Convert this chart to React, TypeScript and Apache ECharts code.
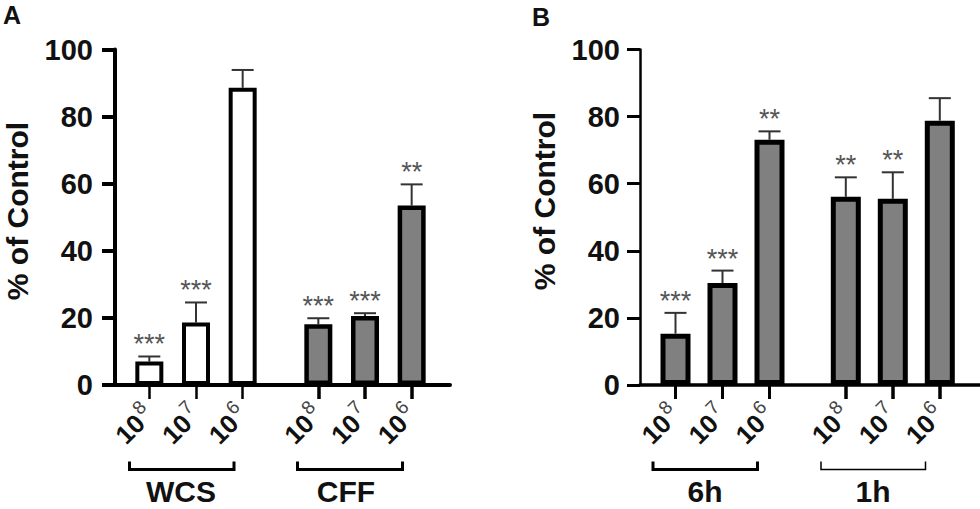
import React, { useEffect, useRef } from 'react';
import * as echarts from 'echarts';

const doseExponents = ['8', '7', '6'];
const groupNamesA = ['WCS', 'CFF'];
const groupNamesB = ['6h', '1h'];
const yTicks = [0, 20, 40, 60, 80, 100];
const yTitle = '% of Control';
const panelLetters = ['A', 'B'];

const wcsValues = [7.0, 18.6, 88.6];
const wcsErrors = [1.5, 6.0, 5.3];
const wcsStars = ['***', '***', ''];

const cffValues = [18.1, 20.6, 53.5];
const cffErrors = [1.8, 0.8, 6.3];
const cffStars = ['***', '***', '**'];

const h6Values = [15.3, 30.4, 73.1];
const h6Errors = [6.2, 3.7, 2.5];
const h6Stars = ['***', '***', '**'];

const h1Values = [56.1, 55.5, 78.8];
const h1Errors = [5.8, 7.9, 6.7];
const h1Stars = ['**', '**', ''];

const FONT = '"Liberation Sans", Arial, Helvetica, sans-serif';
const TOP = 49.5;
const HEIGHT = 335.5;

export default function App() {
  const ref = useRef<HTMLDivElement>(null);

  useEffect(() => {
    if (!ref.current) return;
    const chart = echarts.init(ref.current, undefined, { renderer: 'svg' });

    const yMin = yTicks[0];
    const yMax = yTicks[yTicks.length - 1];
    const yInt = yTicks[1] - yTicks[0];

    const frames = [
      { left: 115, width: 335, yLine: 4, yTick: 4, xLine: 4, labelMargin: 22 },
      { left: 640, width: 340, yLine: 2.5, yTick: 3, xLine: 3.5, labelMargin: 20 },
    ];

    const groups = [
      { values: wcsValues, errors: wcsErrors, stars: wcsStars, fill: '#ffffff', left: 126, width: 140, bw: 28, border: 4, tickW: 2.5 },
      { values: cffValues, errors: cffErrors, stars: cffStars, fill: '#808080', left: 295, width: 140, bw: 28, border: 4.5, tickW: 3.5 },
      { values: h6Values, errors: h6Errors, stars: h6Stars, fill: '#808080', left: 652, width: 141, bw: 30, border: 5, tickW: 3 },
      { values: h1Values, errors: h1Errors, stars: h1Stars, fill: '#808080', left: 822.3, width: 141, bw: 30, border: 5, tickW: 3.5 },
    ];

    const grid: any[] = [];
    const xAxis: any[] = [];
    const yAxis: any[] = [];
    const series: any[] = [];

    frames.forEach((f) => {
      grid.push({ left: f.left, top: TOP, width: f.width, height: HEIGHT });
      const gi = grid.length - 1;
      xAxis.push({
        type: 'value', gridIndex: gi, min: 0, max: 1,
        axisLine: { show: true, lineStyle: { color: '#000', width: f.xLine } },
        axisTick: { show: false }, axisLabel: { show: false }, splitLine: { show: false },
      });
      yAxis.push({
        type: 'value', gridIndex: gi, min: yMin, max: yMax, interval: yInt,
        axisLine: { show: true, lineStyle: { color: '#000', width: f.yLine } },
        axisTick: { show: true, length: 13, lineStyle: { color: '#000', width: f.yTick } },
        axisLabel: { fontSize: 29, fontWeight: 'bold', color: '#111', fontFamily: FONT, margin: f.labelMargin },
        splitLine: { show: false },
      });
    });

    groups.forEach((g) => {
      grid.push({ left: g.left, top: TOP, width: g.width, height: HEIGHT });
      const gi = grid.length - 1;
      xAxis.push({
        type: 'category', gridIndex: gi, data: doseExponents,
        axisLine: { show: false },
        axisTick: { show: true, alignWithLabel: true, length: 14, lineStyle: { color: '#000', width: g.tickW } },
        axisLabel: {
          interval: 0, rotate: 45, margin: 25,
          formatter: (v: string) => `{n|10}{s|${v}}`,
          rich: {
            n: { fontSize: 26, fontWeight: 'bold', color: '#111', fontFamily: FONT, lineHeight: 26 },
            s: { fontSize: 19, color: '#444', fontFamily: FONT, lineHeight: 19, padding: [0, 0, 18, 2] },
          },
        },
        splitLine: { show: false },
      });
      yAxis.push({ type: 'value', gridIndex: gi, min: yMin, max: yMax, show: false, splitLine: { show: false } });
      series.push({
        type: 'bar', xAxisIndex: gi, yAxisIndex: gi, data: g.values, barWidth: g.bw, z: 2,
        itemStyle: { color: g.fill, borderColor: '#000', borderWidth: g.border },
      });
      const stars = g.stars;
      series.push({
        type: 'custom', xAxisIndex: gi, yAxisIndex: gi, z: 1, clip: false,
        data: g.values.map((v, i) => [i, v, g.errors[i]]),
        encode: { x: 0, y: 1 },
        renderItem: (params: any, api: any) => {
          const i = api.value(0);
          const v = api.value(1);
          const e = api.value(2);
          const base = api.coord([i, v]);
          const top = api.coord([i, v + e]);
          const star = stars[params.dataIndex];
          return {
            type: 'group',
            children: [
              { type: 'line', shape: { x1: base[0], y1: base[1], x2: top[0], y2: top[1] }, style: { stroke: '#333', lineWidth: 2 } },
              { type: 'line', shape: { x1: top[0] - 11, y1: top[1], x2: top[0] + 11, y2: top[1] }, style: { stroke: '#333', lineWidth: 2 } },
              {
                type: 'text', x: top[0], y: top[1] - 12,
                style: { text: star, fontSize: 27, fill: '#555', align: 'center', verticalAlign: 'middle', fontFamily: FONT },
              },
            ],
          };
        },
      });
    });

    const bracket = (x1: number, x2: number, w: number) => ({
      type: 'polyline',
      shape: { points: [[x1, 461.5], [x1, 469.5], [x2, 469.5], [x2, 461.5]] },
      style: { stroke: '#000', lineWidth: w, fill: 'none' },
    });
    const label = (text: string, x: number, y: number, size: number) => ({
      type: 'text', x, y,
      style: { text, fontSize: size, fontWeight: 'bold', fill: '#111', fontFamily: FONT, align: 'center', verticalAlign: 'middle' },
    });
    const rotLabel = (text: string, x: number, y: number) => ({
      type: 'text', x, y, rotation: Math.PI / 2,
      style: { text, fontSize: 30, fontWeight: 'bold', fill: '#111', fontFamily: FONT, align: 'center', verticalAlign: 'middle' },
    });

    const graphic = [
      label(panelLetters[0], 12, 15, 25),
      label(panelLetters[1], 541, 17, 25),
      rotLabel(yTitle, 17, 211),
      rotLabel(yTitle, 544, 201),
      bracket(129.5, 234, 3),
      bracket(297.5, 402.5, 3),
      bracket(653, 757.5, 3),
      bracket(821, 925.5, 1.5),
      label(groupNamesA[0], 181, 491, 30),
      label(groupNamesA[1], 346, 491, 30),
      label(groupNamesB[0], 705, 491, 30),
      label(groupNamesB[1], 873, 491, 30),
    ];

    chart.setOption({
      animation: false,
      backgroundColor: '#ffffff',
      grid, xAxis, yAxis, series, graphic,
    });

    return () => chart.dispose();
  }, []);

  return <div ref={ref} style={{ position: 'absolute', left: 0, top: 0, width: 980, height: 509 }} />;
}
